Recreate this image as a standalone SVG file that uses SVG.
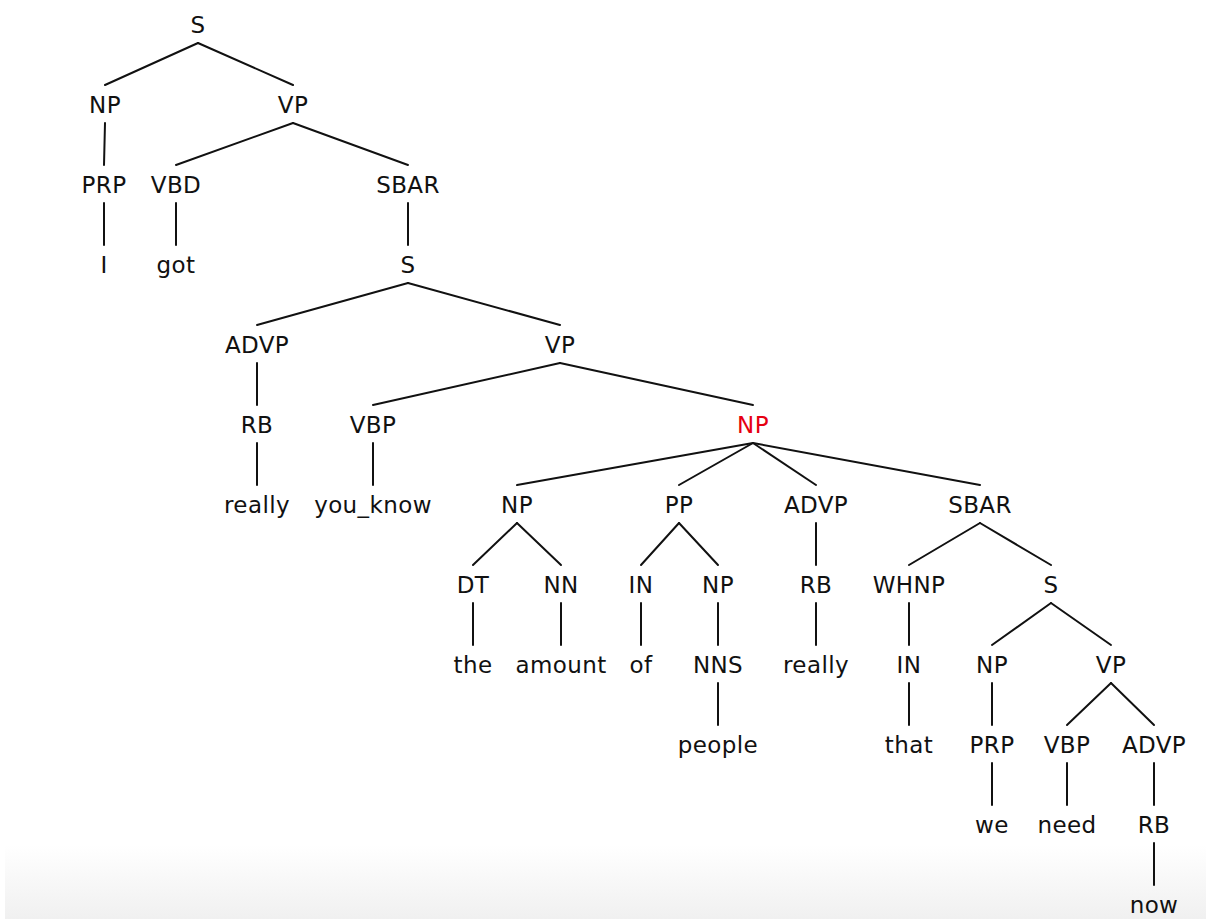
<svg xmlns="http://www.w3.org/2000/svg" width="1206" height="919" viewBox="0 0 1206 919">
<defs>
<linearGradient id="bg" x1="0" y1="0" x2="0" y2="1">
<stop offset="0" stop-color="#ffffff"/>
<stop offset="1" stop-color="#f0f0f0"/>
</linearGradient>
<style>
text{font-family:"DejaVu Sans","Verdana",sans-serif;font-size:23px;letter-spacing:0.4px;text-anchor:middle;fill:#111}
text.hl{fill:#e60012}
#edges line{stroke:#111;stroke-width:2;stroke-linecap:round}
</style>
</defs>
<rect x="0" y="0" width="1206" height="919" fill="#ffffff"/>
<rect x="5" y="845" width="1201" height="74" fill="url(#bg)"/>
<g id="edges">
<line x1="198" y1="43" x2="105" y2="85"/>
<line x1="198" y1="43" x2="293" y2="85"/>
<line x1="105" y1="123" x2="104" y2="165"/>
<line x1="293" y1="123" x2="176" y2="165"/>
<line x1="293" y1="123" x2="408" y2="165"/>
<line x1="104" y1="203" x2="104" y2="245"/>
<line x1="176" y1="203" x2="176" y2="245"/>
<line x1="408" y1="203" x2="408" y2="245"/>
<line x1="408" y1="283" x2="257" y2="325"/>
<line x1="408" y1="283" x2="560" y2="325"/>
<line x1="257" y1="363" x2="257" y2="405"/>
<line x1="560" y1="363" x2="373" y2="405"/>
<line x1="560" y1="363" x2="753" y2="405"/>
<line x1="257" y1="443" x2="257" y2="485"/>
<line x1="373" y1="443" x2="373" y2="485"/>
<line x1="753" y1="443" x2="517" y2="485"/>
<line x1="753" y1="443" x2="679" y2="485"/>
<line x1="753" y1="443" x2="816" y2="485"/>
<line x1="753" y1="443" x2="980" y2="485"/>
<line x1="517" y1="523" x2="473" y2="565"/>
<line x1="517" y1="523" x2="561" y2="565"/>
<line x1="679" y1="523" x2="641" y2="565"/>
<line x1="679" y1="523" x2="718" y2="565"/>
<line x1="816" y1="523" x2="816" y2="565"/>
<line x1="980" y1="523" x2="909" y2="565"/>
<line x1="980" y1="523" x2="1051" y2="565"/>
<line x1="473" y1="603" x2="473" y2="645"/>
<line x1="561" y1="603" x2="561" y2="645"/>
<line x1="641" y1="603" x2="641" y2="645"/>
<line x1="718" y1="603" x2="718" y2="645"/>
<line x1="816" y1="603" x2="816" y2="645"/>
<line x1="909" y1="603" x2="909" y2="645"/>
<line x1="1051" y1="603" x2="992" y2="645"/>
<line x1="1051" y1="603" x2="1111" y2="645"/>
<line x1="718" y1="683" x2="718" y2="725"/>
<line x1="909" y1="683" x2="909" y2="725"/>
<line x1="992" y1="683" x2="992" y2="725"/>
<line x1="1111" y1="683" x2="1067" y2="725"/>
<line x1="1111" y1="683" x2="1154" y2="725"/>
<line x1="992" y1="763" x2="992" y2="805"/>
<line x1="1067" y1="763" x2="1067" y2="805"/>
<line x1="1154" y1="763" x2="1154" y2="805"/>
<line x1="1154" y1="843" x2="1154" y2="885"/>
</g>
<g id="n0"><text x="198" y="33">S</text></g>
<g id="n1"><text x="105" y="113">NP</text></g>
<g id="n2"><text x="293" y="113">VP</text></g>
<g id="n3"><text x="104" y="193">PRP</text></g>
<g id="n4"><text x="176" y="193">VBD</text></g>
<g id="n5"><text x="408" y="193">SBAR</text></g>
<g id="n6"><text x="104" y="273">I</text></g>
<g id="n7"><text x="176" y="273">got</text></g>
<g id="n8"><text x="408" y="273">S</text></g>
<g id="n9"><text x="257" y="353">ADVP</text></g>
<g id="n10"><text x="560" y="353">VP</text></g>
<g id="n11"><text x="257" y="433">RB</text></g>
<g id="n12"><text x="373" y="433">VBP</text></g>
<g id="n13"><text class="hl" x="753" y="433">NP</text></g>
<g id="n14"><text x="257" y="513">really</text></g>
<g id="n15"><text x="373" y="513">you_know</text></g>
<g id="n16"><text x="517" y="513">NP</text></g>
<g id="n17"><text x="679" y="513">PP</text></g>
<g id="n18"><text x="816" y="513">ADVP</text></g>
<g id="n19"><text x="980" y="513">SBAR</text></g>
<g id="n20"><text x="473" y="593">DT</text></g>
<g id="n21"><text x="561" y="593">NN</text></g>
<g id="n22"><text x="641" y="593">IN</text></g>
<g id="n23"><text x="718" y="593">NP</text></g>
<g id="n24"><text x="816" y="593">RB</text></g>
<g id="n25"><text x="909" y="593">WHNP</text></g>
<g id="n26"><text x="1051" y="593">S</text></g>
<g id="n27"><text x="473" y="673">the</text></g>
<g id="n28"><text x="561" y="673">amount</text></g>
<g id="n29"><text x="641" y="673">of</text></g>
<g id="n30"><text x="718" y="673">NNS</text></g>
<g id="n31"><text x="816" y="673">really</text></g>
<g id="n32"><text x="909" y="673">IN</text></g>
<g id="n33"><text x="992" y="673">NP</text></g>
<g id="n34"><text x="1111" y="673">VP</text></g>
<g id="n35"><text x="718" y="753">people</text></g>
<g id="n36"><text x="909" y="753">that</text></g>
<g id="n37"><text x="992" y="753">PRP</text></g>
<g id="n38"><text x="1067" y="753">VBP</text></g>
<g id="n39"><text x="1154" y="753">ADVP</text></g>
<g id="n40"><text x="992" y="833">we</text></g>
<g id="n41"><text x="1067" y="833">need</text></g>
<g id="n42"><text x="1154" y="833">RB</text></g>
<g id="n43"><text x="1154" y="913">now</text></g>
</svg>
